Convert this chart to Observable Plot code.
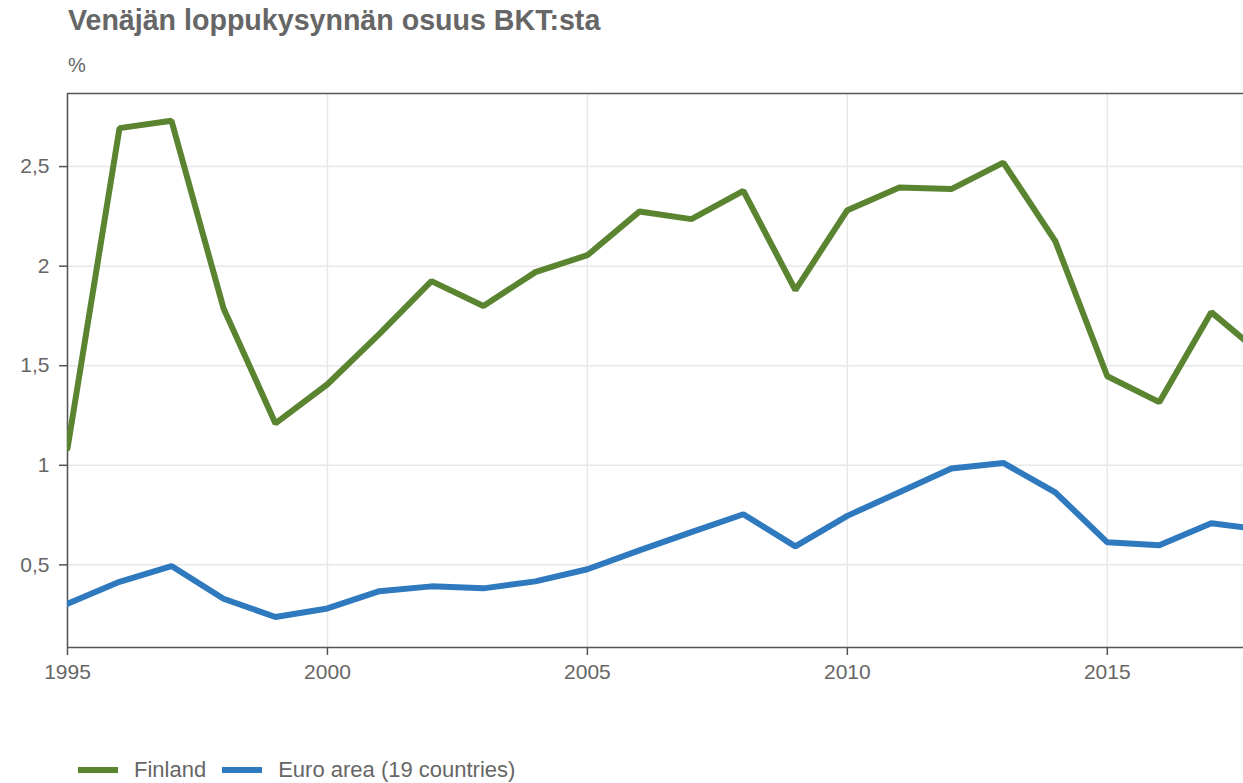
<!DOCTYPE html>
<html>
<head>
<meta charset="utf-8">
<script src="https://cdn.jsdelivr.net/npm/d3@7"></script>
<script src="https://cdn.jsdelivr.net/npm/@observablehq/plot@0.6"></script>
<style>
  html, body { margin: 0; padding: 0; background: #fff; overflow: hidden; }
  body { width: 1243px; height: 783px; position: relative; font-family: "Liberation Sans", Arial, sans-serif; color: #666; }
  #title { position: absolute; left: 68px; top: 4px; font-size: 28.6px; font-weight: bold; color: #666; white-space: nowrap; }
  #unit { position: absolute; left: 68px; top: 54px; font-size: 20px; color: #666; }
  #chart { position: absolute; left: 0; top: 80px; }
  #legend { position: absolute; left: 78px; top: 757px; font-size: 22px; color: #666; display: flex; align-items: center; white-space: nowrap; }
  .sw { display: inline-block; width: 40px; height: 6px; margin-right: 16px; }
  .item { display: flex; align-items: center; margin-right: 16px; }
</style>
</head>
<body>
<div id="title">Venäjän loppukysynnän osuus BKT:sta</div>
<div id="unit">%</div>
<div id="chart"></div>
<div id="legend"></div>
<script>
const years = [1995, 1996, 1997, 1998, 1999, 2000, 2001, 2002, 2003, 2004, 2005, 2006,
               2007, 2008, 2009, 2010, 2011, 2012, 2013, 2014, 2015, 2016, 2017, 2018];
const finland = [1.085, 2.693, 2.73, 1.789, 1.21, 1.407, 1.66, 1.925, 1.80, 1.97, 2.055, 2.274,
                 2.236, 2.378, 1.88, 2.281, 2.395, 2.387, 2.52, 2.126, 1.447, 1.317, 1.769, 1.55];
const euroArea = [0.305, 0.415, 0.494, 0.33, 0.238, 0.281, 0.368, 0.392, 0.382, 0.417, 0.478, 0.573,
                  0.664, 0.754, 0.593, 0.746, 0.865, 0.984, 1.012, 0.864, 0.613, 0.598, 0.709, 0.676];
const seriesNames = ["Finland", "Euro area (19 countries)"];
const seriesColors = ["#5b8431", "#2f7abf"];
const xTicks = [1995, 2000, 2005, 2010, 2015];
const yTicks = [0.5, 1, 1.5, 2, 2.5];

const data = [];
years.forEach((y, i) => {
  data.push({year: y, value: finland[i], series: seriesNames[0]});
  data.push({year: y, value: euroArea[i], series: seriesNames[1]});
});

const xDomain = [1995, 2017.62];
const yDomain = [0.085, 2.867];
const font = "Liberation Sans, Arial, sans-serif";

const chart = Plot.plot({
  width: 1243,
  height: 610,
  marginLeft: 67,
  marginRight: 0,
  marginTop: 13,
  marginBottom: 43,
  style: {color: "#666", fontSize: "21px", fontFamily: font, background: "white"},
  x: {domain: xDomain, label: null},
  y: {domain: yDomain, label: null},
  color: {domain: seriesNames, range: seriesColors},
  marks: [
    Plot.gridX(xTicks, {stroke: "#e8e8e8", strokeOpacity: 1, strokeWidth: 1.5}),
    Plot.gridY(yTicks, {stroke: "#e8e8e8", strokeOpacity: 1, strokeWidth: 1.5}),
    Plot.axisX(xTicks, {label: null, tickSize: 8, tickPadding: 9, tickFormat: d => String(d), fontSize: 21, stroke: "#555", fill: "#666", strokeWidth: 1.5}),
    Plot.axisY(yTicks, {label: null, tickSize: 8, tickPadding: 10, tickFormat: d => String(d).replace(".", ","), fontSize: 21, stroke: "#555", fill: "#666", strokeWidth: 1.5}),
    Plot.ruleX([xDomain[0]], {stroke: "#555", strokeWidth: 1.5}),
    Plot.ruleY([yDomain[1]], {stroke: "#555", strokeWidth: 1.5}),
    Plot.ruleY([yDomain[0]], {stroke: "#555", strokeWidth: 1.5}),
    Plot.lineY(data, {x: "year", y: "value", z: "series", stroke: "series", strokeWidth: 6, clip: true, strokeLinejoin: "miter"})
  ]
});
document.getElementById("chart").appendChild(chart);

const legend = document.getElementById("legend");
seriesNames.forEach((name, i) => {
  const item = document.createElement("div");
  item.className = "item";
  const sw = document.createElement("span");
  sw.className = "sw";
  sw.style.background = seriesColors[i];
  item.appendChild(sw);
  item.appendChild(document.createTextNode(name));
  legend.appendChild(item);
});
</script>
</body>
</html>
